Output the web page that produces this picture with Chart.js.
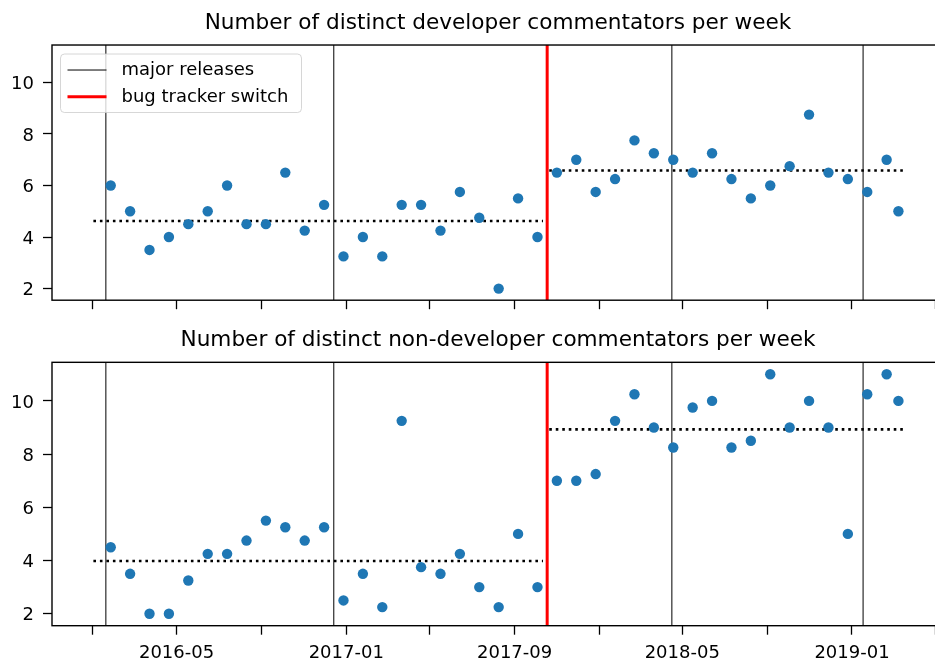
<!DOCTYPE html>
<html>
<head>
<meta charset="utf-8">
<script src="https://cdn.jsdelivr.net/npm/chart.js@4.4.0/dist/chart.umd.min.js"></script>
<style>
  html, body { margin: 0; padding: 0; overflow: hidden; background: #fff; width: 935px; height: 663px; }
  #top { position: absolute; left: 0; top: 0; }
  #bottom { position: absolute; left: 0; top: 320px; }
</style>
</head>
<body>
<canvas id="top" width="944" height="320"></canvas>
<canvas id="bottom" width="944" height="343"></canvas>
<script>
// 4-weekly points (the last one is a shorter period)
const pointDates = [
  '2016-01-27', '2016-02-24', '2016-03-23', '2016-04-20', '2016-05-18', '2016-06-15',
  '2016-07-13', '2016-08-10', '2016-09-07', '2016-10-05', '2016-11-02', '2016-11-30',
  '2016-12-28', '2017-01-25', '2017-02-22', '2017-03-22', '2017-04-19', '2017-05-17',
  '2017-06-14', '2017-07-12', '2017-08-09', '2017-09-06', '2017-10-04', '2017-11-01',
  '2017-11-29', '2017-12-27', '2018-01-24', '2018-02-21', '2018-03-21', '2018-04-18',
  '2018-05-16', '2018-06-13', '2018-07-11', '2018-08-08', '2018-09-05', '2018-10-03',
  '2018-10-31', '2018-11-28', '2018-12-26', '2019-01-23', '2019-02-20', '2019-03-09'
];
const devValues = [
  6, 5, 3.5, 4, 4.5, 5, 6, 4.5, 4.5, 6.5, 4.25, 5.25, 3.25, 4, 3.25, 5.25, 5.25, 4.25,
  5.75, 4.75, 2, 5.5, 4, 6.5, 7, 5.75, 6.25, 7.75, 7.25, 7, 6.5, 7.25, 6.25, 5.5, 6,
  6.75, 8.75, 6.5, 6.25, 5.75, 7, 5
];
const nonDevValues = [
  4.5, 3.5, 2, 2, 3.25, 4.25, 4.25, 4.75, 5.5, 5.25, 4.75, 5.25, 2.5, 3.5, 2.25, 9.25,
  3.75, 3.5, 4.25, 3, 2.25, 5, 3, 7, 7, 7.25, 9.25, 10.25, 9, 8.25, 9.75, 10, 8.25, 8.5,
  11, 9, 10, 9, 5, 10.25, 11, 10
];
// means before / after the bug tracker switch
const meanPeriods = [['2016-01-02', '2017-10-12'], ['2017-10-21', '2019-03-16']];
const devMeans = [4.62, 6.58];
const nonDevMeans = [3.98, 8.93];

const releaseDates = ['2016-01-20', '2016-12-14', '2018-04-16', '2019-01-17'];
const switchDate = '2017-10-18';

const tickDates = [
  '2016-01-01', '2016-05-01', '2016-09-01', '2017-01-01', '2017-05-01', '2017-09-01',
  '2018-01-01', '2018-05-01', '2018-09-01', '2019-01-01', '2019-05-01'
];
const tickLabels = ['', '2016-05', '', '2017-01', '', '2017-09', '', '2018-05', '', '2019-01', ''];
const yTicks = [2, 4, 6, 8, 10];
const legendLabels = ['major releases', 'bug tracker switch'];
const titles = [
  'Number of distinct developer commentators per week',
  'Number of distinct non-developer commentators per week'
];

const Y_MIN = 1.55, Y_MAX = 11.45;
const X_MIN = -58.75, X_MAX = 1228.8; // days from 2016-01-01

const day = s => (Date.parse(s) - Date.parse('2016-01-01')) / 864e5;

Chart.defaults.font.family = "'DejaVu Sans', sans-serif";
Chart.defaults.color = '#000';

function buildDatasets(values, means) {
  const sets = [{
    data: pointDates.map((d, i) => ({ x: day(d), y: values[i] })),
    pointRadius: 5.2,
    pointBackgroundColor: '#1f77b4',
    pointBorderWidth: 0,
    showLine: false,
    order: 0
  }];
  means.forEach((m, i) => sets.push({
    data: meanPeriods[i].map(d => ({ x: day(d), y: m })),
    showLine: true,
    borderColor: '#000',
    borderWidth: 2.6,
    borderDash: [2.6, 3.9],
    pointRadius: 0,
    order: 3
  }));
  releaseDates.forEach(d => sets.push({
    data: [{ x: day(d), y: Y_MIN }, { x: day(d), y: Y_MAX }],
    showLine: true,
    borderColor: '#000',
    borderWidth: 1,
    pointRadius: 0,
    order: 2
  }));
  sets.push({
    data: [{ x: day(switchDate), y: Y_MIN }, { x: day(switchDate), y: Y_MAX }],
    showLine: true,
    borderColor: '#ff0000',
    borderWidth: 3,
    pointRadius: 0,
    order: 1
  });
  return sets;
}

function buildScales(showLabels, xHeight) {
  const grid = { drawOnChartArea: false, drawTicks: true, tickLength: 9, tickWidth: 1.3, tickColor: '#000' };
  return {
    x: {
      type: 'linear', min: X_MIN, max: X_MAX,
      afterBuildTicks: s => { s.ticks = tickDates.map(d => ({ value: day(d) })); },
      afterFit: s => { s.height = xHeight; },
      grid: grid,
      border: { display: false },
      ticks: {
        display: showLabels, autoSkip: false, maxRotation: 0, padding: 8,
        font: { size: 18 }, callback: (v, i) => tickLabels[i]
      }
    },
    y: {
      min: Y_MIN, max: Y_MAX,
      afterBuildTicks: s => { s.ticks = yTicks.map(v => ({ value: v })); },
      afterFit: s => { s.width = 52; },
      grid: grid,
      border: { display: false },
      ticks: { padding: 9, labelOffset: 2, font: { size: 18 } }
    }
  };
}

// full box around the axes
const frame = {
  id: 'frame',
  afterDraw(chart) {
    const { ctx, chartArea: a } = chart;
    ctx.save();
    ctx.strokeStyle = '#000';
    ctx.lineWidth = 1.4;
    ctx.strokeRect(a.left, a.top, a.right - a.left, a.bottom - a.top);
    ctx.restore();
  }
};

// matplotlib-like legend box in the upper left corner
const releaseLegend = {
  id: 'releaseLegend',
  afterDraw(chart) {
    const { ctx, chartArea: a } = chart;
    const x = a.left + 8.5, y = a.top + 9, w = 241, h = 58.5, r = 4;
    ctx.save();
    ctx.beginPath();
    ctx.moveTo(x + r, y);
    ctx.arcTo(x + w, y, x + w, y + h, r);
    ctx.arcTo(x + w, y + h, x, y + h, r);
    ctx.arcTo(x, y + h, x, y, r);
    ctx.arcTo(x, y, x + w, y, r);
    ctx.closePath();
    ctx.fillStyle = 'rgba(255,255,255,0.8)';
    ctx.fill();
    ctx.strokeStyle = 'rgba(204,204,204,0.8)';
    ctx.lineWidth = 1;
    ctx.stroke();
    const styles = [{ color: '#000', width: 1 }, { color: '#ff0000', width: 3 }];
    ctx.font = "18px 'DejaVu Sans'";
    ctx.textBaseline = 'middle';
    ctx.textAlign = 'left';
    legendLabels.forEach((label, i) => {
      const ly = y + 16 + i * 26.7;
      ctx.beginPath();
      ctx.strokeStyle = styles[i].color;
      ctx.lineWidth = styles[i].width;
      ctx.moveTo(x + 7, ly);
      ctx.lineTo(x + 46, ly);
      ctx.stroke();
      ctx.fillStyle = '#000';
      ctx.fillText(label, x + 61, ly + 0.5);
    });
    ctx.restore();
  }
};

function makeChart(id, values, means, title, titlePad, showLabels, xHeight, extraPlugins) {
  return new Chart(document.getElementById(id), {
    type: 'scatter',
    data: { datasets: buildDatasets(values, means) },
    options: {
      responsive: false,
      animation: false,
      events: [],
      layout: { padding: 0, autoPadding: false },
      scales: buildScales(showLabels, xHeight),
      plugins: {
        legend: { display: false },
        tooltip: { enabled: false },
        title: {
          display: true, text: title, fullSize: false,
          font: { size: 21.6, weight: 'normal' },
          padding: titlePad
        }
      }
    },
    plugins: [frame].concat(extraPlugins)
  });
}

makeChart('top', devValues, devMeans, titles[0], { top: 10.7, bottom: 8.4 }, false, 11, [releaseLegend]);
makeChart('bottom', nonDevValues, nonDevMeans, titles[1], { top: 7.4, bottom: 9.0 }, true, 37.3, []);
</script>
</body>
</html>
